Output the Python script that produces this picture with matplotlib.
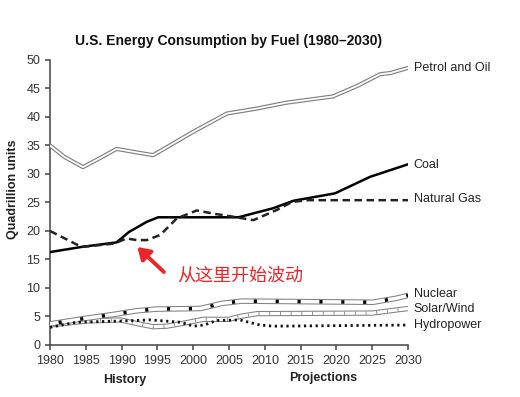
import matplotlib
matplotlib.use('Agg')
import matplotlib.pyplot as plt

# values
petrol_years = [1980, 1982, 1984.6, 1987, 1989.3, 1992, 1994.4, 1997, 2000, 2004.7, 2009, 2013, 2019.5, 2023, 2026.1, 2027.5, 2030]
petrol = [35.0, 33.0, 31.2, 32.8, 34.4, 33.8, 33.3, 35.2, 37.4, 40.6, 41.5, 42.5, 43.6, 45.5, 47.5, 47.7, 48.6]

coal_years = [1980, 1984.4, 1989.3, 1991, 1993.5, 1995.1, 2006.3, 2011.2, 2014, 2019.8, 2024.7, 2030]
coal = [16.3, 17.2, 18.0, 19.8, 21.6, 22.4, 22.4, 24.0, 25.3, 26.6, 29.5, 31.7]

gas_years = [1980, 1984.4, 1989, 1990.7, 1992.1, 1993.5, 1995.4, 1997.7, 2000.5, 2003, 2005.1, 2008.4, 2011.7, 2013.8, 2016, 2030]
gas = [20.0, 17.2, 17.8, 18.7, 18.4, 18.4, 19.3, 22.2, 23.6, 23.0, 22.6, 21.9, 23.7, 25.1, 25.4, 25.4]

nuclear_years = [1980, 1985.1, 1989.1, 1992.1, 1994.9, 2001, 2004, 2006.8, 2025.1, 2028.4, 2030]
nuclear = [3.7, 4.7, 5.4, 6.0, 6.3, 6.4, 7.3, 7.7, 7.5, 8.2, 8.7]

solar_years = [1980, 1985, 1989.8, 1992, 1994.4, 1996.3, 1998.6, 2001.4, 2005, 2006.5, 2008.9, 2025, 2030]
solar = [3.5, 4.2, 4.4, 3.8, 3.2, 3.3, 3.8, 4.5, 4.5, 5.0, 5.5, 5.6, 6.4]

hydro_years = [1980, 1983.7, 1989.8, 1994, 1998.2, 2000, 2001.5, 2003.3, 2006.5, 2009.3, 2011.2, 2030]
hydro = [3.1, 4.0, 4.2, 4.4, 4.0, 3.3, 3.5, 4.3, 4.4, 3.5, 3.3, 3.5]

series_labels = ['Petrol and Oil', 'Coal', 'Natural Gas', 'Nuclear', 'Solar/Wind', 'Hydropower']
label_y = [48.6, 31.6, 25.6, 8.9, 6.3, 3.5]

x_ticks = [1980, 1985, 1990, 1995, 2000, 2005, 2010, 2015, 2020, 2025, 2030]
y_ticks = [0, 5, 10, 15, 20, 25, 30, 35, 40, 45, 50]

plt.rcParams['font.family'] = ['Liberation Sans', 'DejaVu Sans']

fig = plt.figure(figsize=(5.2, 3.97), dpi=100)
ax = fig.add_axes([0.0962, 0.131, 0.6885, 0.718])

gray = '#808080'

# petrol: double line
ax.plot(petrol_years, petrol, color=gray, lw=3.0, solid_capstyle='round', solid_joinstyle='round', zorder=3)
ax.plot(petrol_years, petrol, color='white', lw=1.3, solid_capstyle='round', solid_joinstyle='round', zorder=3)

# coal and gas
ax.plot(coal_years, coal, color='black', lw=1.8, zorder=4)
ax.plot(gas_years, gas, color='#222222', lw=1.8, linestyle=(0, (3, 1.8)), zorder=4)

# solar/wind: double line with small hatch ticks inside
ax.plot(solar_years, solar, color=gray, lw=3.8, solid_capstyle='round', solid_joinstyle='round', zorder=3)
ax.plot(solar_years, solar, color='white', lw=2.3, solid_capstyle='round', solid_joinstyle='round', zorder=3)
ax.plot(solar_years, solar, color='#777777', lw=2.3, linestyle=(1, (0.25, 3.1)), zorder=3)

# nuclear: double line with square marks inside
ax.plot(nuclear_years, nuclear, color=gray, lw=4.0, solid_capstyle='round', solid_joinstyle='round', zorder=3)
ax.plot(nuclear_years, nuclear, color='white', lw=2.5, solid_capstyle='round', solid_joinstyle='round', zorder=3)
ax.plot(nuclear_years, nuclear, color='black', lw=2.5, linestyle=(-2.5, (0.9, 5.4)), zorder=3)

# hydropower: dotted
ax.plot(hydro_years, hydro, color='#111111', lw=2.0, linestyle=(0, (0.8, 1.3)), zorder=4)

for lab, yv in zip(series_labels, label_y):
    ax.text(2030.8, yv, lab, fontsize=9, color='#222222', va='center', ha='left', clip_on=False)

ax.set_xlim(1980, 2030)
ax.set_ylim(0, 50)
ax.set_xticks(x_ticks)
ax.set_yticks(y_ticks)
for s in ['top', 'right']:
    ax.spines[s].set_visible(False)
for s in ['left', 'bottom']:
    ax.spines[s].set_color('#444444')
    ax.spines[s].set_linewidth(1.1)
ax.tick_params(axis='both', labelsize=9, colors='#444444', labelcolor='#333333',
               length=3.5, width=1.1, direction='out')

ax.set_ylabel('Quadrillion units', fontsize=9, fontweight='bold', color='#222222')
ax.yaxis.set_label_coords(-0.087, 0.545)

fig.text(229 / 520, 1 - 41 / 397, 'U.S. Energy Consumption by Fuel (1980\u20132030)', fontsize=10,
         fontweight='bold', ha='center', va='center', color='#111111')
fig.text(125 / 520, 1 - 380 / 397, 'History', fontsize=9, fontweight='bold',
         ha='center', va='center', color='#222222')
fig.text(323 / 520, 1 - 378 / 397, 'Projections', fontsize=9, fontweight='bold',
         ha='center', va='center', color='#222222')

# red annotation
ax.annotate('', xy=(1992.2, 17.2), xytext=(1995.9, 12.8),
            arrowprops=dict(arrowstyle='-|>,head_length=0.7,head_width=0.45', color='#e8262b', lw=2.8,
                            shrinkA=0, shrinkB=0), zorder=6)
ax.text(1997.7, 12.1, '从这里开始波动', fontsize=13, color='#e8262b', ha='left', va='center',
        family=['Noto Sans CJK SC', 'DejaVu Sans'], zorder=6)

fig.savefig('out.png', dpi=100)
